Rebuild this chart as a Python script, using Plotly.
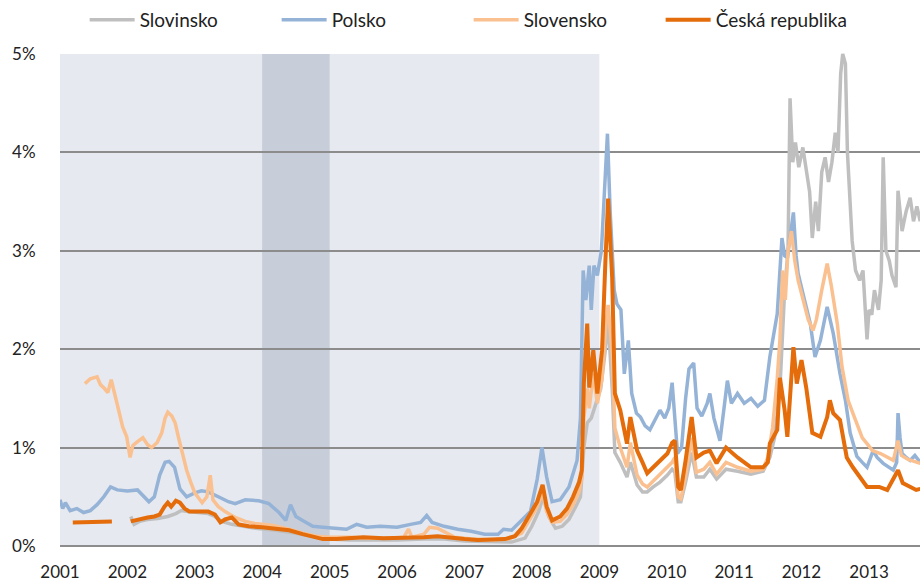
import datetime as dt
import plotly.graph_objects as go

# ---------------- data (time as decimal year, values in %) ----------------
slovinsko_t = [2002.05, 2002.10, 2002.18, 2002.30, 2002.45, 2002.60, 2002.72, 2002.80, 2002.90, 2003.05,
               2003.20, 2003.30, 2003.40, 2003.55, 2003.70, 2003.90, 2004.20, 2004.50, 2004.80, 2005.00,
               2005.30, 2005.70, 2006.00, 2006.40, 2006.70, 2007.00, 2007.40, 2007.70, 2007.90, 2008.00,
               2008.10, 2008.17, 2008.25, 2008.35, 2008.45, 2008.55, 2008.65, 2008.72, 2008.77, 2008.82,
               2008.88, 2008.95, 2009.02, 2009.09, 2009.13, 2009.19, 2009.23, 2009.31, 2009.41, 2009.46,
               2009.56, 2009.64, 2009.71, 2009.80, 2009.90, 2010.01, 2010.08, 2010.12, 2010.17, 2010.21,
               2010.28, 2010.37, 2010.44, 2010.55, 2010.64, 2010.74, 2010.88, 2011.05, 2011.25, 2011.43,
               2011.53, 2011.60, 2011.68, 2011.75, 2011.80, 2011.83, 2011.87, 2011.91, 2011.96, 2012.02,
               2012.08, 2012.12, 2012.16, 2012.21, 2012.25, 2012.30, 2012.35, 2012.40, 2012.45, 2012.50,
               2012.54, 2012.58, 2012.61, 2012.65, 2012.68, 2012.72, 2012.75, 2012.80, 2012.86, 2012.91,
               2012.97, 2013.00, 2013.04, 2013.08, 2013.14, 2013.18, 2013.21, 2013.25, 2013.30, 2013.34,
               2013.40, 2013.43, 2013.49, 2013.55, 2013.61, 2013.66, 2013.71, 2013.76]
slovinsko_v = [0.30, 0.22, 0.25, 0.27, 0.28, 0.30, 0.33, 0.36, 0.35, 0.34,
               0.33, 0.30, 0.25, 0.22, 0.20, 0.18, 0.16, 0.13, 0.09, 0.07,
               0.06, 0.06, 0.06, 0.07, 0.07, 0.05, 0.04, 0.04, 0.08, 0.20,
               0.35, 0.50, 0.30, 0.18, 0.20, 0.27, 0.40, 0.50, 1.00, 1.25,
               1.30, 1.45, 1.60, 2.00, 2.30, 1.60, 0.95, 0.85, 0.70, 0.85,
               0.62, 0.55, 0.55, 0.60, 0.65, 0.72, 0.78, 0.75, 0.45, 0.45,
               0.65, 0.95, 0.70, 0.70, 0.78, 0.68, 0.78, 0.76, 0.73, 0.76,
               0.90, 1.10, 1.60, 2.60, 3.00, 4.55, 3.90, 4.10, 3.85, 4.05,
               3.80, 3.60, 3.13, 3.50, 3.20, 3.80, 3.95, 3.70, 3.90, 4.20,
               4.00, 4.80, 5.00, 4.90, 4.00, 3.40, 3.10, 2.80, 2.70, 2.80,
               2.10, 2.40, 2.35, 2.60, 2.40, 2.70, 3.95, 3.00, 2.90, 2.75,
               2.63, 3.61, 3.20, 3.40, 3.54, 3.30, 3.45, 3.30]

polsko_t = [2001.00, 2001.04, 2001.08, 2001.15, 2001.25, 2001.35, 2001.45, 2001.55, 2001.65, 2001.75,
            2001.85, 2002.00, 2002.15, 2002.25, 2002.32, 2002.40, 2002.48, 2002.56, 2002.62, 2002.70,
            2002.78, 2002.88, 2003.00, 2003.10, 2003.20, 2003.35, 2003.50, 2003.60, 2003.75, 2003.95,
            2004.10, 2004.25, 2004.35, 2004.42, 2004.50, 2004.60, 2004.75, 2004.90, 2005.05, 2005.25,
            2005.40, 2005.55, 2005.75, 2006.00, 2006.20, 2006.35, 2006.44, 2006.52, 2006.70, 2006.90,
            2007.10, 2007.30, 2007.50, 2007.58, 2007.70, 2007.85, 2007.98, 2008.08, 2008.15, 2008.22,
            2008.30, 2008.42, 2008.55, 2008.67, 2008.72, 2008.76, 2008.80, 2008.85, 2008.88, 2008.92,
            2008.97, 2009.03, 2009.08, 2009.12, 2009.16, 2009.22, 2009.26, 2009.32, 2009.37, 2009.43,
            2009.48, 2009.55, 2009.61, 2009.68, 2009.75, 2009.82, 2009.90, 2009.97, 2010.03, 2010.08,
            2010.12, 2010.16, 2010.22, 2010.28, 2010.33, 2010.40, 2010.45, 2010.52, 2010.60, 2010.64,
            2010.70, 2010.79, 2010.85, 2010.90, 2010.96, 2011.05, 2011.15, 2011.25, 2011.35, 2011.45,
            2011.53, 2011.60, 2011.64, 2011.71, 2011.75, 2011.79, 2011.84, 2011.88, 2011.92, 2011.95,
            2012.02, 2012.08, 2012.13, 2012.20, 2012.28, 2012.38, 2012.47, 2012.57, 2012.65, 2012.72,
            2012.82, 2012.90, 2012.97, 2013.06, 2013.12, 2013.21, 2013.30, 2013.36, 2013.41, 2013.43,
            2013.46, 2013.49, 2013.55, 2013.61, 2013.68, 2013.76]
polsko_v = [0.47, 0.38, 0.44, 0.36, 0.38, 0.34, 0.36, 0.42, 0.50, 0.60,
            0.57, 0.56, 0.57, 0.50, 0.45, 0.50, 0.72, 0.85, 0.86, 0.80,
            0.58, 0.50, 0.54, 0.56, 0.55, 0.50, 0.45, 0.43, 0.47, 0.46,
            0.43, 0.34, 0.26, 0.42, 0.30, 0.26, 0.20, 0.19, 0.18, 0.17,
            0.22, 0.19, 0.20, 0.19, 0.22, 0.24, 0.31, 0.24, 0.20, 0.17,
            0.15, 0.12, 0.12, 0.17, 0.16, 0.26, 0.35, 0.68, 1.00, 0.70,
            0.45, 0.47, 0.60, 0.87, 1.30, 2.80, 2.50, 2.85, 2.40, 2.85,
            2.75, 3.00, 3.70, 4.19, 3.40, 2.60, 2.46, 2.40, 1.75, 2.09,
            1.55, 1.35, 1.31, 1.22, 1.18, 1.28, 1.38, 1.30, 1.40, 1.66,
            1.30, 0.94, 1.00, 1.50, 1.80, 1.86, 1.40, 1.32, 1.45, 1.55,
            1.30, 1.07, 1.40, 1.68, 1.45, 1.55, 1.45, 1.50, 1.42, 1.48,
            1.92, 2.20, 2.36, 3.13, 2.95, 2.93, 3.20, 3.39, 2.95, 2.77,
            2.57, 2.40, 2.26, 1.92, 2.09, 2.43, 2.16, 1.75, 1.48, 1.15,
            0.91, 0.85, 0.80, 0.97, 0.90, 0.84, 0.80, 0.77, 0.85, 1.35,
            1.10, 0.94, 0.90, 0.87, 0.92, 0.85]

slovensko_t = [2001.37, 2001.45, 2001.55, 2001.60, 2001.66, 2001.71, 2001.76, 2001.82, 2001.86, 2001.93,
               2001.99, 2002.04, 2002.08, 2002.15, 2002.23, 2002.30, 2002.36, 2002.44, 2002.51, 2002.56,
               2002.60, 2002.66, 2002.71, 2002.76, 2002.81, 2002.88, 2002.94, 2003.00, 2003.11, 2003.18,
               2003.23, 2003.27, 2003.35, 2003.45, 2003.60, 2003.75, 2003.89, 2004.15, 2004.40, 2004.60,
               2004.80, 2005.00, 2005.30, 2005.60, 2005.90, 2006.10, 2006.17, 2006.22, 2006.40, 2006.48,
               2006.60, 2006.70, 2006.85, 2007.10, 2007.40, 2007.65, 2007.85, 2007.98, 2008.08, 2008.16,
               2008.22, 2008.30, 2008.42, 2008.52, 2008.61, 2008.70, 2008.74, 2008.77, 2008.82, 2008.85,
               2008.91, 2008.97, 2009.04, 2009.09, 2009.13, 2009.19, 2009.23, 2009.31, 2009.41, 2009.46,
               2009.56, 2009.64, 2009.71, 2009.80, 2009.90, 2010.01, 2010.08, 2010.12, 2010.17, 2010.21,
               2010.28, 2010.37, 2010.44, 2010.55, 2010.64, 2010.74, 2010.88, 2011.05, 2011.25, 2011.43,
               2011.50, 2011.57, 2011.64, 2011.68, 2011.72, 2011.76, 2011.80, 2011.85, 2011.90, 2011.95,
               2012.02, 2012.10, 2012.17, 2012.22, 2012.30, 2012.38, 2012.44, 2012.50, 2012.53, 2012.60,
               2012.69, 2012.76, 2012.82, 2012.90, 2012.97, 2013.05, 2013.17, 2013.27, 2013.36, 2013.43,
               2013.48, 2013.58, 2013.68, 2013.76]
slovensko_v = [1.65, 1.70, 1.72, 1.64, 1.60, 1.56, 1.69, 1.50, 1.41, 1.21,
               1.11, 0.90, 1.02, 1.06, 1.10, 1.03, 1.00, 1.05, 1.15, 1.30,
               1.36, 1.32, 1.25, 1.10, 0.97, 0.77, 0.65, 0.54, 0.44, 0.50,
               0.72, 0.47, 0.40, 0.35, 0.29, 0.25, 0.23, 0.21, 0.17, 0.13,
               0.10, 0.09, 0.09, 0.08, 0.08, 0.09, 0.17, 0.09, 0.12, 0.19,
               0.18, 0.14, 0.09, 0.07, 0.06, 0.07, 0.13, 0.28, 0.40, 0.55,
               0.35, 0.24, 0.25, 0.32, 0.42, 0.55, 0.70, 1.30, 1.60, 1.40,
               1.75, 1.45, 1.70, 2.20, 2.45, 1.95, 1.20, 1.00, 0.80, 1.05,
               0.72, 0.63, 0.60, 0.66, 0.73, 0.80, 0.85, 0.90, 0.50, 0.48,
               0.72, 1.10, 0.75, 0.78, 0.85, 0.73, 0.85, 0.80, 0.76, 0.78,
               0.90, 1.20, 1.70, 2.10, 2.80, 2.50, 3.00, 3.20, 2.90, 2.70,
               2.50, 2.30, 2.19, 2.30, 2.60, 2.87, 2.65, 2.40, 2.26, 1.82,
               1.48, 1.35, 1.25, 1.10, 1.04, 0.97, 0.94, 0.90, 0.87, 1.07,
               0.92, 0.88, 0.86, 0.84]

cr_t = [2001.19, 2001.40, 2001.60, 2001.77, 2001.90, 2002.05, 2002.15, 2002.30, 2002.40, 2002.48,
        2002.55, 2002.60, 2002.65, 2002.72, 2002.78, 2002.85, 2002.92, 2003.05, 2003.20, 2003.30,
        2003.38, 2003.45, 2003.55, 2003.65, 2003.80, 2004.00, 2004.20, 2004.40, 2004.60, 2004.75,
        2004.90, 2005.10, 2005.25, 2005.50, 2005.80, 2006.10, 2006.40, 2006.60, 2006.80, 2007.00,
        2007.20, 2007.40, 2007.60, 2007.75, 2007.85, 2007.98, 2008.08, 2008.16, 2008.22, 2008.30,
        2008.42, 2008.52, 2008.61, 2008.70, 2008.74, 2008.77, 2008.82, 2008.85, 2008.88, 2008.91,
        2008.97, 2009.04, 2009.09, 2009.13, 2009.19, 2009.23, 2009.31, 2009.36, 2009.41, 2009.46,
        2009.56, 2009.64, 2009.71, 2009.80, 2009.90, 2010.01, 2010.08, 2010.12, 2010.17, 2010.21,
        2010.28, 2010.37, 2010.44, 2010.55, 2010.64, 2010.74, 2010.88, 2011.05, 2011.25, 2011.43,
        2011.50, 2011.53, 2011.64, 2011.68, 2011.75, 2011.79, 2011.88, 2011.93, 2012.00, 2012.07,
        2012.16, 2012.28, 2012.38, 2012.42, 2012.47, 2012.57, 2012.67, 2012.76, 2012.97, 2013.15,
        2013.27, 2013.43, 2013.50, 2013.60, 2013.70, 2013.76]
cr_v = [0.24, 0.24, 0.24, 0.25, None, 0.25, 0.27, 0.29, 0.30, 0.32,
        0.40, 0.44, 0.40, 0.46, 0.44, 0.38, 0.35, 0.35, 0.35, 0.32,
        0.24, 0.27, 0.29, 0.22, 0.20, 0.19, 0.18, 0.16, 0.12, 0.10,
        0.07, 0.07, 0.08, 0.09, 0.08, 0.08, 0.09, 0.10, 0.08, 0.07,
        0.06, 0.06, 0.07, 0.10, 0.18, 0.33, 0.45, 0.62, 0.40, 0.26,
        0.30, 0.38, 0.50, 0.65, 0.77, 1.65, 2.26, 1.61, 1.85, 1.99,
        1.55, 1.99, 2.90, 3.53, 2.73, 1.55, 1.38, 1.20, 1.04, 1.31,
        0.97, 0.85, 0.74, 0.80, 0.87, 0.94, 1.05, 1.07, 0.60, 0.57,
        0.87, 1.31, 0.90, 0.95, 0.97, 0.84, 1.00, 0.90, 0.80, 0.80,
        0.85, 1.04, 1.18, 1.71, 1.38, 1.11, 2.02, 1.65, 1.89, 1.61,
        1.15, 1.11, 1.31, 1.48, 1.35, 1.28, 0.90, 0.80, 0.60, 0.60,
        0.57, 0.77, 0.64, 0.60, 0.57, 0.58]

series_names = ["Slovinsko", "Polsko", "Slovensko", "Česká republika"]
series_colors = ["#BFBFBF", "#95B3D7", "#FAC090", "#E46C0A"]
series_widths = [3.5, 3.5, 3.5, 4]

shade_all = ("2001-01-01", "2009-01-01")
shade_dark = ("2004-01-01", "2005-01-01")
x_range = ("2001-01-01", "2013-10-04")
y_ticks = [0, 1, 2, 3, 4, 5]


def to_date(y):
    year = int(y)
    start = dt.datetime(year, 1, 1)
    end = dt.datetime(year + 1, 1, 1)
    return start + (end - start) * (y - year)


FONT = "Lato, 'Open Sans', sans-serif"
fig = go.Figure()

all_series = [(slovinsko_t, slovinsko_v), (polsko_t, polsko_v),
              (slovensko_t, slovensko_v), (cr_t, cr_v)]
for (t, v), name, color, w in zip(all_series, series_names, series_colors, series_widths):
    fig.add_trace(go.Scatter(
        x=[to_date(a) for a in t], y=v, name=name, mode="lines",
        line=dict(color=color, width=w), connectgaps=False,
        hoverinfo="x+y+name"))

fig.add_shape(type="rect", xref="x", yref="y", x0=shade_all[0], x1=shade_all[1],
              y0=0, y1=5, fillcolor="#E6E9EF", line_width=0, layer="below")
fig.add_shape(type="rect", xref="x", yref="y", x0=shade_dark[0], x1=shade_dark[1],
              y0=0, y1=5, fillcolor="#C8CED9", line_width=0, layer="below")

fig.update_layout(
    width=920, height=586,
    margin=dict(l=60, r=0, t=53, b=40, autoexpand=False),
    paper_bgcolor="white", plot_bgcolor="white",
    font=dict(family=FONT, size=17, color="#222222"),
    showlegend=True,
    legend=dict(orientation="h", xref="container", yref="container",
                x=0.092, y=0.966, xanchor="left", yanchor="middle",
                entrywidth=132, entrywidthmode="pixels", itemwidth=45,
                font=dict(family=FONT, size=19, color="#222222"),
                bgcolor="rgba(0,0,0,0)", tracegroupgap=0),
    xaxis=dict(type="date", range=list(x_range), dtick="M12", tick0="2001-01-01",
               tickformat="%Y", showgrid=False, zeroline=False, showline=False,
               ticks="outside", ticklen=11, tickcolor="rgba(0,0,0,0)",
               tickfont=dict(family=FONT, size=17, color="#222222")),
    yaxis=dict(range=[0, 5.01], tickvals=y_ticks, ticktext=[f"{k}%" for k in y_ticks],
               showgrid=True, gridcolor="#8C8C8C", gridwidth=1.6,
               zeroline=True, zerolinecolor="#8C8C8C", zerolinewidth=1.6,
               showline=False, ticks="outside", ticklen=20, tickcolor="rgba(0,0,0,0)",
               tickfont=dict(family=FONT, size=17, color="#222222")),
)

fig.write_html("out.html", config={"displayModeBar": False},
               post_script="document.body.style.margin='0px';document.body.style.overflow='hidden';")
